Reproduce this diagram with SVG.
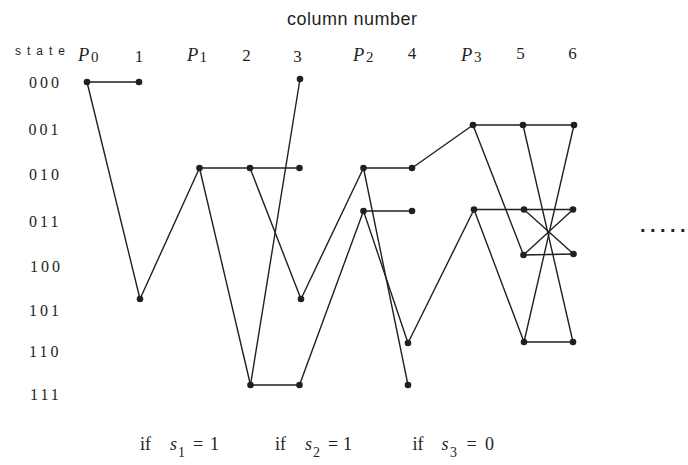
<svg xmlns="http://www.w3.org/2000/svg" width="688" height="465" viewBox="0 0 688 465">
<style>
.e{stroke:#231f20;stroke-width:1.4;fill:none;stroke-linecap:round}
.d{fill:#231f20}
.sf{font-family:"Liberation Serif","Times New Roman",serif;fill:#231f20}
.ss{font-family:"Liberation Sans",Arial,sans-serif;fill:#231f20}
.row{font-size:16px;letter-spacing:3px}
.col{font-size:17px;text-anchor:middle}
.P{font-size:18.5px;font-style:italic}
.sub{font-size:15px}
.b{font-size:18px}
</style>
<rect width="688" height="465" fill="#fff"/>
<g id="labels">
<text class="ss" x="287" y="25" font-size="18" letter-spacing="0.5">column number</text>
<text class="ss" x="15" y="55" font-size="12" letter-spacing="6">state</text>
<text class="sf P" x="78" y="60.5">P</text><text class="sf sub" x="91" y="62">0</text>
<text class="sf col" x="139" y="61.5">1</text>
<text class="sf P" x="187" y="60.5">P</text><text class="sf sub" x="199.5" y="62">1</text>
<text class="sf col" x="246.5" y="60.5">2</text>
<text class="sf col" x="297.5" y="61.5">3</text>
<text class="sf P" x="353" y="60.5">P</text><text class="sf sub" x="366" y="62">2</text>
<text class="sf col" x="412" y="59">4</text>
<text class="sf P" x="461" y="60.5">P</text><text class="sf sub" x="474" y="62">3</text>
<text class="sf col" x="520.5" y="58.5">5</text>
<text class="sf col" x="572.5" y="59">6</text>
<text class="sf row" x="29" y="88">000</text>
<text class="sf row" x="28.5" y="135">001</text>
<text class="sf row" x="29" y="180">010</text>
<text class="sf row" x="29" y="226.5">011</text>
<text class="sf row" x="30" y="271.5">100</text>
<text class="sf row" x="29" y="316">101</text>
<text class="sf row" x="29" y="356.5">110</text>
<text class="sf row" x="30" y="400">111</text>
<text class="sf b" x="140" y="450">if</text><text class="sf b" x="170" y="450" font-style="italic">s</text><text class="sf" x="178" y="456.5" font-size="14">1</text><text class="sf b" x="193" y="450">=</text><text class="sf b" x="210" y="450">1</text>
<text class="sf b" x="275" y="450">if</text><text class="sf b" x="305" y="450" font-style="italic">s</text><text class="sf" x="313" y="456.5" font-size="14">2</text><text class="sf b" x="328" y="450">=</text><text class="sf b" x="343" y="450">1</text>
<text class="sf b" x="412.5" y="450">if</text><text class="sf b" x="441.5" y="450" font-style="italic">s</text><text class="sf" x="450" y="456.5" font-size="14">3</text><text class="sf b" x="466.5" y="450">=</text><text class="sf b" x="485" y="450">0</text>
<text class="ss" x="640 650 660 670 680" y="231.5" font-size="20" font-weight="bold">.....</text>
</g>
<g id="connectors">
<line class="e" x1="87" y1="82" x2="139" y2="82"/>
<line class="e" x1="87" y1="82" x2="140" y2="299"/>
<line class="e" x1="140" y1="299" x2="199.5" y2="168"/>
<line class="e" x1="199.5" y1="168" x2="299.5" y2="168"/>
<line class="e" x1="199.5" y1="168" x2="250.5" y2="385"/>
<line class="e" x1="250" y1="168" x2="301" y2="299"/>
<line class="e" x1="250.5" y1="385" x2="300" y2="79"/>
<line class="e" x1="250.5" y1="385" x2="299.5" y2="385"/>
<line class="e" x1="301" y1="299" x2="363.5" y2="168"/>
<line class="e" x1="299.5" y1="385" x2="363.5" y2="211"/>
<line class="e" x1="363.5" y1="168" x2="412" y2="168"/>
<line class="e" x1="363.5" y1="211" x2="412" y2="211"/>
<line class="e" x1="363.5" y1="168" x2="408" y2="385"/>
<line class="e" x1="363.5" y1="211" x2="408" y2="343"/>
<line class="e" x1="412" y1="168" x2="473" y2="125"/>
<line class="e" x1="408" y1="343" x2="474" y2="209.5"/>
<line class="e" x1="473" y1="125" x2="574" y2="125"/>
<line class="e" x1="473" y1="125" x2="523.5" y2="255"/>
<line class="e" x1="474" y1="209.5" x2="573" y2="209.5"/>
<line class="e" x1="474" y1="209.5" x2="524" y2="342"/>
<line class="e" x1="524" y1="342" x2="573" y2="342"/>
<line class="e" x1="523.5" y1="255" x2="573.5" y2="254"/>
<line class="e" x1="523" y1="125" x2="573" y2="342"/>
<line class="e" x1="574" y1="125" x2="524" y2="342"/>
<line class="e" x1="524" y1="209.5" x2="573.5" y2="254"/>
<line class="e" x1="523.5" y1="255" x2="573" y2="209.5"/>
</g>
<g id="n_p0_000"><circle class="d" cx="87" cy="82" r="3.3"/></g>
<g id="n_c1_000"><circle class="d" cx="139" cy="82" r="3.3"/></g>
<g id="n_c1_101"><circle class="d" cx="140" cy="299" r="3.3"/></g>
<g id="n_p1_010"><circle class="d" cx="199.5" cy="168" r="3.3"/></g>
<g id="n_c2_010"><circle class="d" cx="250" cy="168" r="3.3"/></g>
<g id="n_c2_111"><circle class="d" cx="250.5" cy="385" r="3.3"/></g>
<g id="n_c3_000"><circle class="d" cx="300" cy="79" r="3.3"/></g>
<g id="n_c3_010"><circle class="d" cx="299.5" cy="168" r="3.3"/></g>
<g id="n_c3_101"><circle class="d" cx="301" cy="299" r="3.3"/></g>
<g id="n_c3_111"><circle class="d" cx="299.5" cy="385" r="3.3"/></g>
<g id="n_p2_010"><circle class="d" cx="363.5" cy="168" r="3.3"/></g>
<g id="n_p2_011"><circle class="d" cx="363.5" cy="211" r="3.3"/></g>
<g id="n_c4_010"><circle class="d" cx="412" cy="168" r="3.3"/></g>
<g id="n_c4_011"><circle class="d" cx="412" cy="211" r="3.3"/></g>
<g id="n_c4_110"><circle class="d" cx="408" cy="343" r="3.3"/></g>
<g id="n_c4_111"><circle class="d" cx="408" cy="385" r="3.3"/></g>
<g id="n_p3_001"><circle class="d" cx="473" cy="125" r="3.3"/></g>
<g id="n_p3_011"><circle class="d" cx="474" cy="209.5" r="3.3"/></g>
<g id="n_c5_001"><circle class="d" cx="523" cy="125" r="3.3"/></g>
<g id="n_c5_011"><circle class="d" cx="524" cy="209.5" r="3.3"/></g>
<g id="n_c5_100"><circle class="d" cx="523.5" cy="255" r="3.3"/></g>
<g id="n_c5_110"><circle class="d" cx="524" cy="342" r="3.3"/></g>
<g id="n_c6_001"><circle class="d" cx="574" cy="125" r="3.3"/></g>
<g id="n_c6_011"><circle class="d" cx="573" cy="209.5" r="3.3"/></g>
<g id="n_c6_100"><circle class="d" cx="573.5" cy="254" r="3.3"/></g>
<g id="n_c6_110"><circle class="d" cx="573" cy="342" r="3.3"/></g>
</svg>
